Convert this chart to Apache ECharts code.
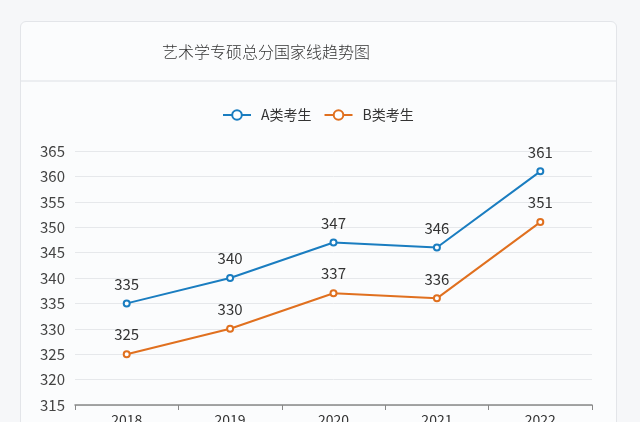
<!DOCTYPE html>
<html><head><meta charset="utf-8">
<script src="https://cdn.jsdelivr.net/npm/echarts@6/dist/echarts.min.js"></script>
<style>
html,body{margin:0;padding:0;width:640px;height:422px;background:#f6f7f9;overflow:hidden;font-family:"Noto Sans CJK SC","Noto Sans",sans-serif;}
#card{position:absolute;left:20px;top:21px;width:595px;height:430px;background:#fbfcfd;border:1px solid #e3e5e9;border-radius:6px;}
#hdr{position:absolute;left:0;top:0;right:0;height:58px;border-bottom:2px solid #eceef1;}
#c{position:absolute;left:0;top:0;width:640px;height:422px;}
</style></head>
<body>
<div id="card"><div id="hdr"></div></div>
<div id="c"></div>
<script>
var titleText = '艺术学专硕总分国家线趋势图';
var categories = ['2018','2019','2020','2021','2022'];
var seriesNames = ['A类考生','B类考生'];
var seriesA = [335,340,347,346,361];
var seriesB = [325,330,337,336,351];
var yMin = 315, yMax = 365, yStep = 5;

var chart = echarts.init(document.getElementById('c'), null, {renderer:'canvas'});
var font = '"Noto Sans CJK SC","Noto Sans",sans-serif';
function mk(name, data, color){
  return {
    name: name, type:'line', data: data,
    symbol:'emptyCircle', symbolSize:6,
    lineStyle:{color:color,width:2},
    itemStyle:{color:color,borderWidth:2},
    label:{show:true,position:'top',distance:8,color:'#333',fontSize:15,fontFamily:font}
  };
}
chart.setOption({
  backgroundColor:'transparent',
  animation:false,
  title:{text:titleText,left:157,top:39,textStyle:{fontSize:16,fontWeight:300,color:'#333',fontFamily:font}},
  legend:{top:103,left:217,itemGap:12,itemWidth:28,itemHeight:12,
    textStyle:{fontSize:14,color:'#333',fontFamily:font,padding:[0,0,0,5]},data:seriesNames},
  grid:{left:75,right:48,top:151,bottom:17,containLabel:false,outerBoundsMode:'none'},
  xAxis:{type:'category',data:categories,boundaryGap:true,
    axisLine:{lineStyle:{color:'#888',width:1.5}},
    axisTick:{show:true,lineStyle:{color:'#888'}},
    axisLabel:{color:'#333',fontSize:14,fontFamily:font,margin:8}},
  yAxis:{type:'value',min:yMin,max:yMax,interval:yStep,
    axisLine:{show:false},axisTick:{show:false},
    axisLabel:{color:'#444',fontSize:15,fontFamily:font,margin:10},
    splitLine:{lineStyle:{color:'#e6e8eb'}}},
  series:[mk(seriesNames[0],seriesA,'#1a7dc0'), mk(seriesNames[1],seriesB,'#e0701f')]
});
</script>
</body></html>
